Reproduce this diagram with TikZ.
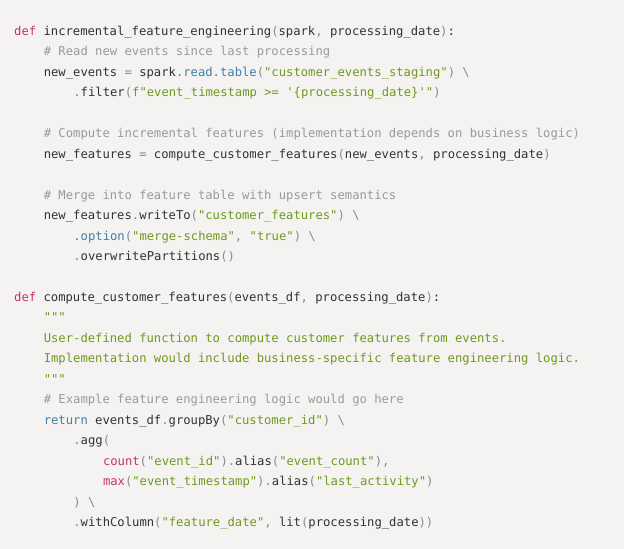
\documentclass[tikz,border=0pt]{standalone}
\usepackage{fontspec}
\newfontfamily\codefont{DejaVu Sans Mono}[Scale=1.0]
\definecolor{bgc}{HTML}{F5F3F1}
\definecolor{txc}{HTML}{333333}
\definecolor{kwc}{HTML}{C2356B}
\definecolor{cmc}{HTML}{9A9A9A}
\definecolor{stc}{HTML}{6E9A1E}
\definecolor{fnc}{HTML}{3F7FA8}
\definecolor{pnc}{HTML}{8A8A8A}
\newcommand{\ck}[1]{\textcolor{kwc}{#1}}
\newcommand{\cc}[1]{\textcolor{cmc}{#1}}
\newcommand{\cs}[1]{\textcolor{stc}{#1}}
\newcommand{\cf}[1]{\textcolor{fnc}{#1}}
\newcommand{\cp}[1]{\textcolor{pnc}{#1}}
\newcommand{\bs}{\cp{\textbackslash}}
\begin{document}
\begin{tikzpicture}[x=1pt,y=-1pt,
  ln/.style={anchor=base west,inner sep=0pt,font=\codefont\fontsize{12.2}{14}\selectfont,text=txc}]
\fill[bgc] (0,0) rectangle (624,549);
\useasboundingbox (0,0) rectangle (624,549);
\def\cw{7.4}
\def\lh{20.46}
\def\yb{35.5}
\node[ln] (l1) at (14,\yb+0*\lh) {\ck{def} incremental\_feature\_engineering\cp{(}spark\cp{,} processing\_date\cp{)}:};
\node[ln] (l2) at (14+4*\cw,\yb+1*\lh) {\cc{\# Read new events since last processing}};
\node[ln] (l3) at (14+4*\cw,\yb+2*\lh) {new\_events \cp{=} spark\cf{.read.table}\cp{(}\cs{"customer\_events\_staging"}\cp{)} \bs};
\node[ln] (l4) at (14+8*\cw,\yb+3*\lh) {\cp{.}filter\cp{(}\cs{f"event\_timestamp >= \textquotesingle\{processing\_date\}\textquotesingle"}\cp{)}};
\node[ln] (l6) at (14+4*\cw,\yb+5*\lh) {\cc{\# Compute incremental features (implementation depends on business logic)}};
\node[ln] (l7) at (14+4*\cw,\yb+6*\lh) {new\_features \cp{=} compute\_customer\_features\cp{(}new\_events\cp{,} processing\_date\cp{)}};
\node[ln] (l9) at (14+4*\cw,\yb+8*\lh) {\cc{\# Merge into feature table with upsert semantics}};
\node[ln] (l10) at (14+4*\cw,\yb+9*\lh) {new\_features\cp{.}writeTo\cp{(}\cs{"customer\_features"}\cp{)} \bs};
\node[ln] (l11) at (14+8*\cw,\yb+10*\lh) {\cf{.option}\cp{(}\cs{"merge-schema"}\cp{,} \cs{"true"}\cp{)} \bs};
\node[ln] (l12) at (14+8*\cw,\yb+11*\lh) {\cp{.}overwritePartitions\cp{()}};
\node[ln] (l14) at (14,\yb+13*\lh) {\ck{def} compute\_customer\_features\cp{(}events\_df\cp{,} processing\_date\cp{)}:};
\node[ln] (l15) at (14+4*\cw,\yb+14*\lh) {\cs{"""}};
\node[ln] (l16) at (14+4*\cw,\yb+15*\lh) {\cs{User-defined function to compute customer features from events.}};
\node[ln] (l17) at (14+4*\cw,\yb+16*\lh) {\cs{Implementation would include business-specific feature engineering logic.}};
\node[ln] (l18) at (14+4*\cw,\yb+17*\lh) {\cs{"""}};
\node[ln] (l19) at (14+4*\cw,\yb+18*\lh) {\cc{\# Example feature engineering logic would go here}};
\node[ln] (l20) at (14+4*\cw,\yb+19*\lh) {\cf{return} events\_df\cp{.}groupBy\cp{(}\cs{"customer\_id"}\cp{)} \bs};
\node[ln] (l21) at (14+8*\cw,\yb+20*\lh) {\cp{.}agg\cp{(}};
\node[ln] (l22) at (14+12*\cw,\yb+21*\lh) {\ck{count}\cp{(}\cs{"event\_id"}\cp{)}\cp{.}alias\cp{(}\cs{"event\_count"}\cp{),}};
\node[ln] (l23) at (14+12*\cw,\yb+22*\lh) {\ck{max}\cp{(}\cs{"event\_timestamp"}\cp{)}\cp{.}alias\cp{(}\cs{"last\_activity"}\cp{)}};
\node[ln] (l24) at (14+8*\cw,\yb+23*\lh) {\cp{)} \bs};
\node[ln] (l25) at (14+8*\cw,\yb+24*\lh) {\cp{.}withColumn\cp{(}\cs{"feature\_date"}\cp{,} lit\cp{(}processing\_date\cp{))}};
\end{tikzpicture}
\end{document}
